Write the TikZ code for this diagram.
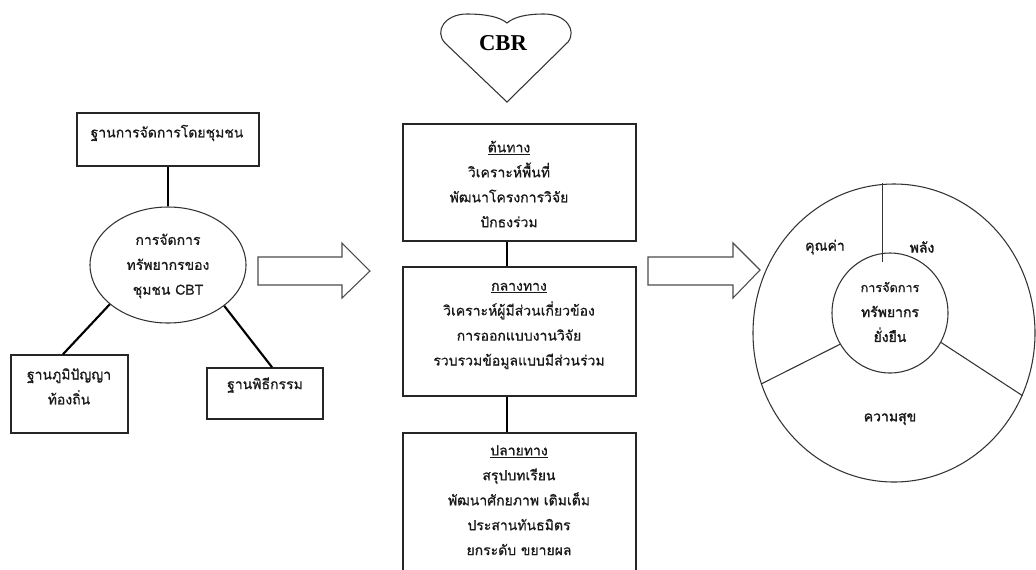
\documentclass[tikz,border=0pt]{standalone}
\usepackage{fontspec}
\setmainfont{Liberation Serif}
\newfontfamily\thai[Script=Thai,FakeBold=0.8]{Loma}
\newfontfamily\thaibold[Script=Thai,FakeBold=1.8]{Loma}
\usetikzlibrary{shapes.geometric,calc,fit}
\tikzset{
  boxshape/.style={draw=black!85,line width=1.1pt,inner sep=0pt},
  conn/.style={draw=black,line width=1.6pt},
  thin/.style={draw=black!80,line width=0.8pt},
  thtext/.style={font=\thai\fontsize{10.5}{18.7}\selectfont,align=center,inner sep=0pt,text=black!90},
  thlabel/.style={font=\thaibold\fontsize{10.5}{18.7}\selectfont,align=center,inner sep=0pt,text=black!90},
  bigarrow/.style={draw=black!70,line width=0.8pt,fill=white},
}
\begin{document}
\begin{tikzpicture}[x=0.75pt,y=-0.75pt]
\useasboundingbox (0,0) rectangle (1036,569);
\clip (0,0) rectangle (1036,569);
% heart
\coordinate (tip) at (507,102);
\draw[thin] (tip) -- (445,43) .. controls (434,31) and (445,14) .. (467,14)
  .. controls (486,14) and (500,17) .. (507,23)
  .. controls (514,17) and (526,14) .. (544,14)
  .. controls (566,14) and (577,30) .. (568,42) -- cycle;
\node[font=\bfseries\fontsize{17}{17}\selectfont,inner sep=0pt] (cbr) at (503,43) {CBR};
% middle boxes
\node[boxshape,fit={(403,124) (636,241)}] (b1) {};
\node[boxshape,fit={(403,267) (636,396)}] (b2) {};
\node[boxshape,fit={(403,433) (636,600)}] (b3) {};
\node[thtext] (t1) at (509,184) {\underline{ต้นทาง}\\วิเคราะห์พื้นที่\\พัฒนาโครงการวิจัย\\ปักธงร่วม};
\node[thtext] (t2) at (519,326) {\underline{กลางทาง}\\วิเคราะห์ผู้มีส่วนเกี่ยวข้อง\\การออกแบบงานวิจัย\\รวบรวมข้อมูลแบบมีส่วนร่วม};
\node[thtext,anchor=north] (t3) at (519,445) {\underline{ปลายทาง}\\สรุปบทเรียน\\พัฒนาศักยภาพ เติมเต็ม\\ประสานทันธมิตร\\ยกระดับ ขยายผล};
\draw[conn] (b1.south -| tip) -- (b2.north -| tip);
\draw[conn] (b2.south -| tip) -- (b3.north -| tip);
% left part
\node[boxshape,fit={(77,113) (259,166)}] (top) {};
\node[thtext] (ttop) at (167,133) {ฐานการจัดการโดยชุมชน};
\node[ellipse,draw=black!80,line width=0.8pt,minimum width=117pt,minimum height=87pt,inner sep=0pt] (ell) at (168,265) {};
\node[thtext] (tell) at (168,266) {การจัดการ\\ทรัพยากรของ\\ชุมชน CBT};
\node[boxshape,fit={(11,355) (128,433)}] (wis) {};
\node[thtext,anchor=north] (twis) at (69,368) {ฐานภูมิปัญญา\\ท้องถิ่น};
\node[boxshape,fit={(207,368) (323,419)}] (rit) {};
\node[thtext] (trit) at (265,385) {ฐานพิธีกรรม};
\draw[conn] (top.south -| ell.north) -- (ell.north);
\draw[conn] (ell.214) -- ($(wis.north west)!0.445!(wis.north east)$);
\draw[conn] (ell.324) -- ($(rit.north west)!0.56!(rit.north east)$);
% block arrows
\draw[bigarrow] (258,257) -- (342,257) -- (342,243) -- (370,271) -- (342,298) -- (342,285) -- (258,285) -- cycle;
\draw[bigarrow] (648,257) -- (733,257) -- (733,243) -- (760,270) -- (733,298) -- (733,285) -- (648,285) -- cycle;
% right circle
\node[ellipse,draw=black!80,line width=0.8pt,minimum width=211.5pt,minimum height=223.5pt,inner sep=0pt] (outer) at (894,333) {};
\node[ellipse,draw=black!80,line width=0.8pt,minimum width=87pt,minimum height=90pt,inner sep=0pt] (inner) at (890,313) {};
\coordinate (rad) at ($(inner.97)+(0,9)$);
\draw[thin,line width=1.1pt] (rad) -- (rad |- outer.north);
\draw[thin] (inner.212) -- (outer.201);
\draw[thin] (inner.330) -- (outer.334);
\node[thtext] (tin) at (890,312) {{\fontsize{9.5}{18.7}\selectfont การจัดการ}\\{\thaibold ทรัพยากร}\\{\thaibold ยั่งยืน}};
\node[thlabel] (val) at (825,247) {คุณค่า};
\node[thlabel] (pow) at (922,247) {พลัง};
\node[thlabel] (hap) at (890,419) {ความสุข};
\end{tikzpicture}
\end{document}
